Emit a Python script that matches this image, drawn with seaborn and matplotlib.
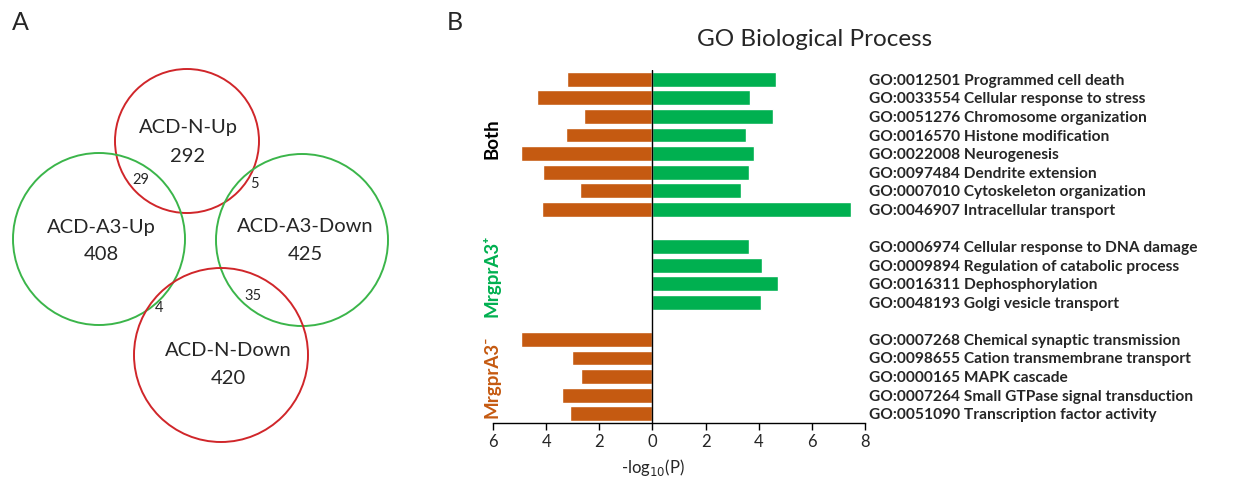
import numpy as np
import pandas as pd
import seaborn as sns
import matplotlib.pyplot as plt
from matplotlib.patches import Circle
from matplotlib.ticker import FuncFormatter

# ---- data ----
# Venn panel
venn_names = ['ACD-N-Up', 'ACD-A3-Up', 'ACD-A3-Down', 'ACD-N-Down']
venn_counts = [292, 408, 425, 420]
overlap_counts = [29, 5, 4, 35]

# GO panel
both_terms = ['GO:0012501 Programmed cell death',
              'GO:0033554 Cellular response to stress',
              'GO:0051276 Chromosome organization',
              'GO:0016570 Histone modification',
              'GO:0022008 Neurogenesis',
              'GO:0097484 Dendrite extension',
              'GO:0007010 Cytoskeleton organization',
              'GO:0046907 Intracellular transport']
both_neg = [3.23, 4.36, 2.56, 3.27, 4.96, 4.10, 2.74, 4.17]
both_pos = [4.66, 3.68, 4.52, 3.53, 3.83, 3.65, 3.35, 7.48]

plus_terms = ['GO:0006974 Cellular response to DNA damage',
              'GO:0009894 Regulation of catabolic process',
              'GO:0016311 Dephosphorylation',
              'GO:0048193 Golgi vesicle transport']
plus_pos = [3.64, 4.13, 4.74, 4.09]

minus_terms = ['GO:0007268 Chemical synaptic transmission',
               'GO:0098655 Cation transmembrane transport',
               'GO:0000165 MAPK cascade',
               'GO:0007264 Small GTPase signal transduction',
               'GO:0051090 Transcription factor activity']
minus_neg = [4.96, 3.04, 2.70, 3.42, 3.12]

ORANGE = '#C55A11'
GREEN = '#00B050'
RED_C = '#D0262A'
GREEN_C = '#3BB54A'

sns.set_theme(style='white')
plt.rcParams['font.family'] = ['Lato', 'DejaVu Sans']

fig = plt.figure(figsize=(12.36, 4.8), dpi=100)

# ---- panel A: Venn ----
axv = fig.add_axes([0, 0, 420 / 1236, 1])
axv.set_xlim(0, 420)
axv.set_ylim(480, 0)
axv.axis('off')

circ_xy = [(187, 141), (99, 239), (302, 240), (221, 355)]
circ_r = [72, 86, 86, 87]
circ_col = [RED_C, GREEN_C, GREEN_C, RED_C]
for (cx, cy), r, c in zip(circ_xy, circ_r, circ_col):
    axv.add_patch(Circle((cx, cy), r, fill=False, ec=c, lw=1.4))

name_xy = [(188, 128), (101, 227), (305, 227), (228, 350)]
for (tx, ty), name, n in zip(name_xy, venn_names, venn_counts):
    axv.text(tx, ty, name, ha='center', va='center', fontsize=14.5)
    axv.text(tx, ty + 28, str(n), ha='center', va='center', fontsize=14.5)

ov_xy = [(141, 180), (254, 184), (159, 308), (253, 296)]
for (tx, ty), n in zip(ov_xy, overlap_counts):
    axv.text(tx, ty, str(n), ha='center', va='center', fontsize=10.5)

fig.text(12 / 1236, 1 - 22 / 480, 'A', fontsize=18, va='center', ha='left')
fig.text(447 / 1236, 1 - 22 / 480, 'B', fontsize=18, va='center', ha='left')

# ---- panel B: GO bars ----
order = both_terms + ['gap1'] + plus_terms + ['gap2'] + minus_terms
rows = []
for t, v in zip(both_terms, both_neg):
    rows.append((t, 'A3-', -v))
for t, v in zip(both_terms, both_pos):
    rows.append((t, 'A3+', v))
for t, v in zip(plus_terms, plus_pos):
    rows.append((t, 'A3+', v))
for t, v in zip(minus_terms, minus_neg):
    rows.append((t, 'A3-', -v))
df = pd.DataFrame(rows, columns=['term', 'group', 'value'])

ax = fig.add_axes([493 / 1236, 1 - 423 / 480, 372 / 1236, 353 / 480])
sns.barplot(data=df, y='term', x='value', hue='group', order=order,
            hue_order=['A3-', 'A3+'], palette={'A3-': ORANGE, 'A3+': GREEN},
            dodge=False, width=0.8, errorbar=None, legend=False, ax=ax,
            saturation=1)
ax.set_xlim(-6, 8)
ax.set_ylim(len(order) - 0.5, -0.5)
ax.axvline(0, color='black', lw=1.0)
ax.set_xticks(np.arange(-6, 9, 2))
ax.xaxis.set_major_formatter(FuncFormatter(lambda v, p: f'{abs(int(v))}'))
ax.tick_params(axis='x', direction='out', length=5, width=1, color='black',
               labelsize=12, bottom=True, pad=3)
for s in ['top', 'right', 'left']:
    ax.spines[s].set_visible(False)
ax.spines['bottom'].set_color('black')
ax.spines['bottom'].set_linewidth(1.0)

ax.yaxis.tick_right()
ax.set_yticks(range(len(order)))
ax.set_yticklabels(['' if o.startswith('gap') else o for o in order],
                   fontsize=11.2, fontweight='bold')
ax.tick_params(axis='y', length=0, pad=3)
ax.set_ylabel('')
ax.set_xlabel('-log$_{10}$(P)', fontsize=12)
ax.xaxis.set_label_coords(6 / 14, -0.095)

ax.text(-6.05, 3.2, 'Both', rotation=90, ha='center', va='center',
        fontsize=13.5, fontweight='bold', color='black')
ax.text(-6.05, 10.6, 'MrgprA3\u207a', rotation=90, ha='center', va='center',
        fontsize=13.5, fontweight='bold', color=GREEN)
ax.text(-6.05, 16.0, 'MrgprA3\u207b', rotation=90, ha='center', va='center',
        fontsize=13.5, fontweight='bold', color=ORANGE)

fig.text(815 / 1236, 1 - 40 / 480, 'GO Biological Process', ha='center',
         va='center', fontsize=17.5)

fig.savefig('out.png', dpi=100, facecolor='white')
